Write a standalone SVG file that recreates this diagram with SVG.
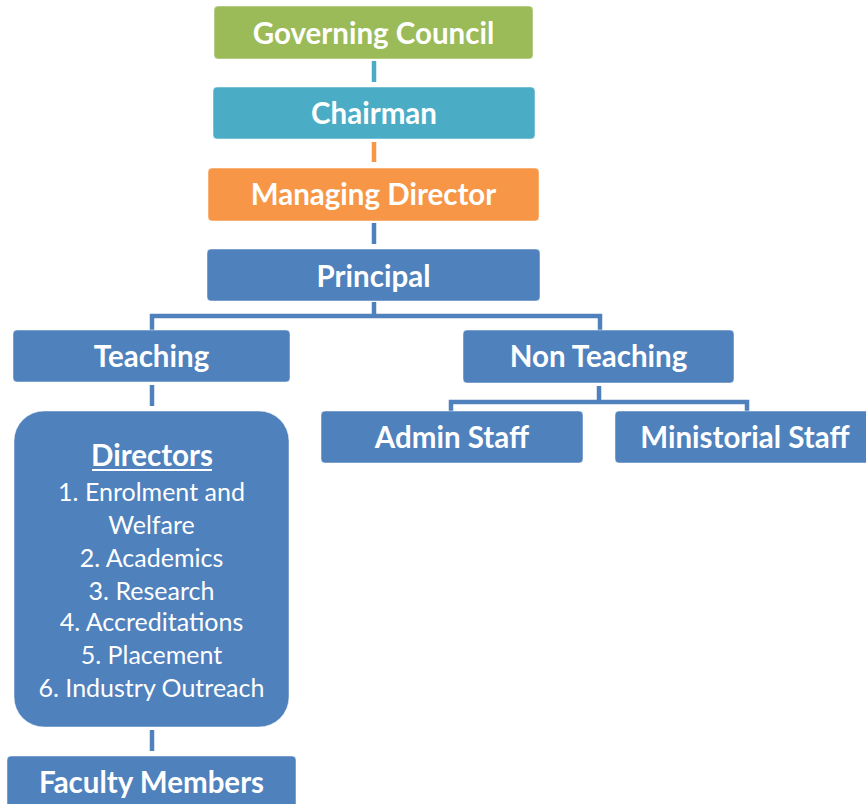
<svg xmlns="http://www.w3.org/2000/svg" width="866" height="804" viewBox="0 0 866 804">
<style>
.box{stroke:#ffffff;stroke-width:1;stroke-opacity:0.5}
.blue{fill:#4F81BD}
.t{font-family:Lato,"Liberation Sans",sans-serif;font-weight:bold;font-size:29.5px;fill:#ffffff;text-anchor:middle}
.b{font-family:Lato,"Liberation Sans",sans-serif;font-size:25px;fill:#ffffff;text-anchor:middle}
.c{fill:none;stroke-width:4.5}
</style>
<rect width="866" height="804" fill="#ffffff"/>
<g id="connectors">
<line class="c" x1="374" y1="61" x2="374" y2="82" stroke="#4BACC6"/>
<line class="c" x1="374" y1="142" x2="374" y2="162" stroke="#F79646"/>
<line class="c" x1="374" y1="223" x2="374" y2="244" stroke="#4F81BD"/>
<path class="c" d="M374 302 V316 M152 330 V316 H600 V330" stroke="#4F81BD"/>
<line class="c" x1="152" y1="385" x2="152" y2="406" stroke="#4F81BD"/>
<path class="c" d="M599 386 V402 M451 411 V402 H747 V411" stroke="#4F81BD"/>
<line class="c" x1="152" y1="730" x2="152" y2="751" stroke="#4F81BD"/>
</g>
<g id="governing-council">
<rect class="box" x="214" y="6" width="319" height="53" rx="4" fill="#9BBB59"/>
<text class="t" x="373.5" y="44">Governing Council</text>
</g>
<g id="chairman">
<rect class="box" x="213" y="87" width="322" height="52" rx="4" fill="#4BACC6"/>
<text class="t" x="374" y="124">Chairman</text>
</g>
<g id="managing-director">
<rect class="box" x="208" y="168" width="331" height="53" rx="4" fill="#F79646"/>
<text class="t" x="373.5" y="205">Managing Director</text>
</g>
<g id="principal">
<rect class="box blue" x="207" y="249" width="333" height="52" rx="4"/>
<text class="t" x="373.5" y="287">Principal</text>
</g>
<g id="teaching">
<rect class="box blue" x="13" y="330" width="277" height="52" rx="4"/>
<text class="t" x="151.5" y="367">Teaching</text>
</g>
<g id="non-teaching">
<rect class="box blue" x="463" y="330" width="271" height="53" rx="4"/>
<text class="t" x="598.5" y="367">Non Teaching</text>
</g>
<g id="admin-staff">
<rect class="box blue" x="321" y="411" width="262" height="52" rx="4"/>
<text class="t" x="452" y="448">Admin Staff</text>
</g>
<g id="ministorial-staff">
<rect class="box blue" x="615" y="411" width="255" height="52" rx="4"/>
<text class="t" x="745" y="448">Ministorial Staff</text>
</g>
<g id="directors">
<rect class="box blue" x="14" y="411" width="275" height="316" rx="30"/>
<text class="t" x="152" y="466">Directors</text>
<rect x="92" y="469" width="120" height="2" fill="#ffffff"/>
<text class="b" x="151.5" y="501">1. Enrolment and</text>
<text class="b" x="151.5" y="534">Welfare</text>
<text class="b" x="151.5" y="567">2. Academics</text>
<text class="b" x="151.5" y="600">3. Research</text>
<text class="b" x="151.5" y="631">4. Accreditations</text>
<text class="b" x="151.5" y="664">5. Placement</text>
<text class="b" x="151.5" y="697">6. Industry Outreach</text>
</g>
<g id="faculty-members">
<rect class="box blue" x="7" y="756" width="289" height="60" rx="4"/>
<text class="t" x="151.5" y="793">Faculty Members</text>
</g>
</svg>
